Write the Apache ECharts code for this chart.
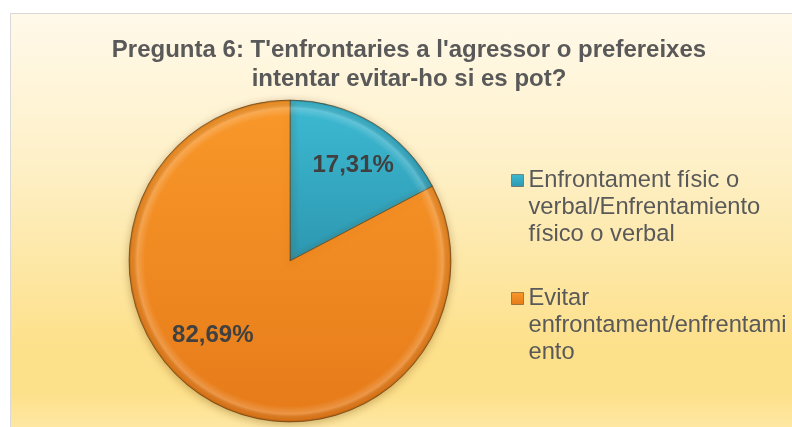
<!DOCTYPE html>
<html>
<head>
<meta charset="utf-8">
<title>Pregunta 6</title>
<script src="https://cdn.jsdelivr.net/npm/echarts@6/dist/echarts.min.js"></script>
<style>
html,
body {
  margin: 0;
  padding: 0;
  width: 792px;
  height: 427px;
  overflow: hidden;
  background: #ffffff;
}
.chart-bg {
  position: absolute;
  left: 10px;
  top: 13px;
  width: 800px;
  height: 440px;
  border: 1px solid #d9d9d9;
  background: linear-gradient(to bottom, #fff9ea 0%, #fef0c6 35%, #fde08a 76%, #fde08a 86%, #feedb5 100%);
}
#chart {
  position: absolute;
  left: 0;
  top: 0;
  width: 792px;
  height: 427px;
}
</style>
</head>
<body>
<div class="chart-bg"></div>
<div id="chart"></div>
<script>
// 数据
const titleText = "Pregunta 6: T'enfrontaries a l'agressor o prefereixes\nintentar evitar-ho si es pot?"
const categories = [
  'Enfrontament físic o verbal/Enfrentamiento físico o verbal',
  'Evitar enfrontament/enfrentamiento',
]
const values = [17.31, 82.69] // %
// 图例文字（按原图换行）
const legendLabels = [
  'Enfrontament físic o\nverbal/Enfrentamiento\nfísico o verbal',
  'Evitar\nenfrontament/enfrentami\nento',
]

// 样式
const sliceColors = [
  {
    type: 'linear', x: 0, y: 0, x2: 0, y2: 1,
    colorStops: [
      { offset: 0, color: '#3dbad3' },
      { offset: 1, color: '#2d97b0' },
    ],
  },
  {
    type: 'linear', x: 0, y: 0, x2: 0, y2: 1,
    colorStops: [
      { offset: 0, color: '#f9982a' },
      { offset: 1, color: '#e67b19' },
    ],
  },
]
const labelOffsets = [[20, -24], [-34, 3]]
const pieCenter = [290, 261]
const pieRadius = 161

const chart = echarts.init(document.getElementById('chart'))

const option = {
  backgroundColor: 'transparent',
  animation: false,
  title: {
    text: titleText,
    left: 409,
    top: 36,
    padding: 0,
    textAlign: 'center',
    textStyle: {
      fontFamily: 'Liberation Sans, Arial, sans-serif',
      fontSize: 24,
      fontWeight: 'bold',
      color: '#595959',
      lineHeight: 29,
    },
  },
  legend: {
    orient: 'vertical',
    left: 511,
    top: 113,
    padding: 0,
    itemGap: -17,
    itemWidth: 12,
    itemHeight: 12,
    icon: 'rect',
    data: categories,
    // 前面补两个空行，让色块对齐第一行文字
    formatter: name => '\n\n' + legendLabels[categories.indexOf(name)],
    itemStyle: {
      borderColor: 'rgba(60,40,20,0.45)',
      borderWidth: 1,
    },
    textStyle: {
      fontFamily: 'Liberation Sans, Arial, sans-serif',
      fontSize: 23.7,
      color: '#595959',
      lineHeight: 27,
    },
  },
  series: [
    {
      name: 'Pregunta 6',
      type: 'pie',
      center: pieCenter,
      radius: pieRadius,
      startAngle: 90,
      clockwise: true,
      avoidLabelOverlap: false,
      itemStyle: {
        borderColor: 'rgba(95,55,15,0.55)',
        borderWidth: 1,
        shadowBlur: 8,
        shadowOffsetY: 2,
        shadowColor: 'rgba(110,70,0,0.35)',
      },
      label: {
        show: true,
        position: 'inside',
        formatter: p => p.value.toFixed(2).replace('.', ',') + '%',
        fontFamily: 'Liberation Sans, Arial, sans-serif',
        fontSize: 24,
        fontWeight: 'bold',
        color: '#404040',
      },
      labelLine: { show: false },
      emphasis: { disabled: true },
      data: categories.map((name, i) => ({
        name,
        value: values[i],
        itemStyle: { color: sliceColors[i] },
        label: { offset: labelOffsets[i] },
      })),
    },
    {
      // 边缘的立体高光
      type: 'pie',
      silent: true,
      center: pieCenter,
      radius: pieRadius,
      startAngle: 90,
      clockwise: true,
      label: { show: false },
      labelLine: { show: false },
      emphasis: { disabled: true },
      itemStyle: {
        color: {
          type: 'radial',
          x: pieCenter[0],
          y: pieCenter[1],
          r: pieRadius,
          global: true,
          colorStops: [
            { offset: 0, color: 'rgba(255,255,255,0)' },
            { offset: 0.9, color: 'rgba(255,255,255,0)' },
            { offset: 0.95, color: 'rgba(255,255,255,0.2)' },
            { offset: 0.985, color: 'rgba(0,0,0,0.05)' },
            { offset: 1, color: 'rgba(0,0,0,0.25)' },
          ],
        },
      },
      data: values.map((v, i) => ({ name: 'rim' + i, value: v })),
    },
  ],
}

chart.setOption(option)
</script>
</body>
</html>
